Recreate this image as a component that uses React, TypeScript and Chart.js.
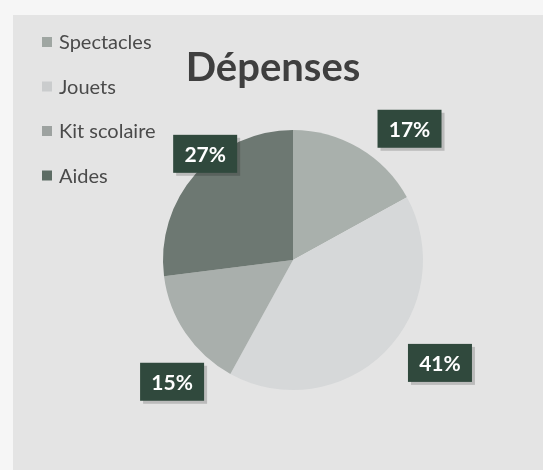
import React, { useEffect, useRef } from "react";
import { Chart, registerables } from "chart.js";

Chart.register(...registerables);

const title = "Dépenses";
const categories = ["Spectacles", "Jouets", "Kit scolaire", "Aides"];
const values = [17, 41, 15, 27];
const sliceColors = ["#a9b0ac", "#d6d8d9", "#a9afac", "#6d7872"];
const legendColors = ["#9fa6a2", "#cacccd", "#9da2a0", "#5d6c64"];
// label placement relative to each slice's mid angle (degrees nudge, radius factor)
const labelAngleNudge = [11, -10, -11, 9];
const labelRadiusFactor = [1.35, 1.38, 1.32, 1.06];

const FONT = "Lato, 'Open Sans', sans-serif";

const decorPlugin = {
  id: "decor",
  beforeDraw(chart: any) {
    const { ctx, width, height } = chart;
    ctx.save();
    ctx.fillStyle = "#f6f6f6";
    ctx.fillRect(0, 0, width, height);
    ctx.fillStyle = "#e4e4e4";
    ctx.fillRect(13, 15, width - 13, height - 15);
    // title
    ctx.fillStyle = "#3f3f3f";
    ctx.font = `bold 40px ${FONT}`;
    ctx.textAlign = "center";
    ctx.textBaseline = "middle";
    ctx.fillText(title, 273, 68);
    // legend
    ctx.font = `20px ${FONT}`;
    ctx.textAlign = "left";
    chart.data.labels.forEach((lab: string, i: number) => {
      const y = 42 + i * 44.5;
      ctx.fillStyle = legendColors[i];
      ctx.fillRect(42, y - 5, 10, 10);
      ctx.fillStyle = "#4a4a4a";
      ctx.fillText(lab, 59, y + 1);
    });
    ctx.restore();
  },
  afterDatasetsDraw(chart: any) {
    const { ctx } = chart;
    const meta = chart.getDatasetMeta(0);
    const data = chart.data.datasets[0].data as number[];
    const total = data.reduce((a, b) => a + b, 0);
    ctx.save();
    meta.data.forEach((arc: any, i: number) => {
      const p = arc.getProps(["x", "y", "startAngle", "endAngle", "outerRadius"], true);
      const mid = (p.startAngle + p.endAngle) / 2 + (labelAngleNudge[i] * Math.PI) / 180;
      const r = p.outerRadius * labelRadiusFactor[i];
      const cx = p.x + Math.cos(mid) * r;
      const cy = p.y + Math.sin(mid) * r;
      const txt = Math.round((data[i] / total) * 100) + "%";
      const w = 64, h = 38;
      ctx.fillStyle = "rgba(0,0,0,0.18)";
      ctx.fillRect(cx - w / 2 + 3, cy - h / 2 + 3, w, h);
      ctx.fillStyle = "#30493d";
      ctx.fillRect(cx - w / 2, cy - h / 2, w, h);
      ctx.fillStyle = "#ffffff";
      ctx.font = `bold 21px ${FONT}`;
      ctx.textAlign = "center";
      ctx.textBaseline = "middle";
      ctx.fillText(txt, cx, cy + 1);
    });
    ctx.restore();
  },
};

export default function App() {
  const ref = useRef<HTMLCanvasElement>(null);
  useEffect(() => {
    document.body.style.margin = "0";
    const chart = new Chart(ref.current!, {
      type: "pie",
      data: {
        labels: categories,
        datasets: [
          {
            data: values,
            backgroundColor: sliceColors,
            borderWidth: 0,
          },
        ],
      },
      options: {
        responsive: false,
        animation: false,
        layout: { padding: { left: 163, right: 120, top: 130, bottom: 80 } },
        plugins: {
          legend: { display: false },
          tooltip: { enabled: false },
          title: { display: false },
        },
      },
      plugins: [decorPlugin],
    });
    return () => chart.destroy();
  }, []);
  return <canvas ref={ref} width={543} height={470} style={{ display: "block" }} />;
}
